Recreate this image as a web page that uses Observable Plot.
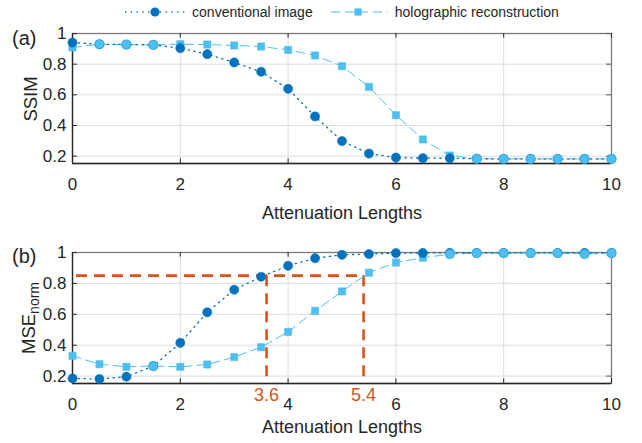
<!DOCTYPE html>
<html>
<head>
<meta charset="utf-8">
<script src="https://cdn.jsdelivr.net/npm/d3@7"></script>
<script src="https://cdn.jsdelivr.net/npm/@observablehq/plot@0.6"></script>
<style>
  html, body { margin: 0; padding: 0; background: #fff; }
  #wrap { position: relative; width: 642px; height: 443px; font-family: "Liberation Sans", Arial, sans-serif; color: #262626; }
  .plot { position: absolute; left: 0; }
  .ylab { position: absolute; font-size: 18.5px; transform: translate(-50%, -50%) rotate(-90deg); white-space: nowrap; }
  .plab { position: absolute; font-size: 20px; }
  #legend { position: absolute; top: 4px; left: 76px; width: 539px; display: flex; justify-content: center; align-items: center; font-size: 14px; gap: 6px; }
  #legend svg { display: block; }
</style>
</head>
<body>
<div id="wrap">
  <div id="legend"></div>
  <div id="pa" class="plot" style="top:0px"></div>
  <div id="pb" class="plot" style="top:230px"></div>
  <div class="plab" style="left:12px; top:27px">(a)</div>
  <div class="plab" style="left:12px; top:245px">(b)</div>
  <div class="ylab" style="left:31px; top:99px">SSIM</div>
  <div class="ylab" style="left:30px; top:318px">MSE<sub style="font-size:14px">norm</sub></div>
</div>
<script>
// ---- data ----
const attenuation = [0,0.5,1,1.5,2,2.5,3,3.5,4,4.5,5,5.5,6,6.5,7,7.5,8,8.5,9,9.5,10];
const ssimConventional = [0.941,0.930,0.928,0.926,0.904,0.865,0.811,0.750,0.639,0.459,0.298,0.217,0.191,0.187,0.186,0.183,0.182,0.182,0.182,0.182,0.182];
const ssimHolographic  = [0.909,0.930,0.928,0.926,0.930,0.928,0.922,0.915,0.893,0.857,0.787,0.652,0.467,0.309,0.204,0.183,0.182,0.182,0.182,0.182,0.182];
const mseConventional  = [0.185,0.181,0.196,0.265,0.415,0.613,0.759,0.843,0.914,0.963,0.985,0.990,0.996,0.997,0.997,0.997,0.997,0.997,0.997,0.997,0.997];
const mseHolographic   = [0.331,0.277,0.260,0.265,0.260,0.275,0.323,0.387,0.486,0.622,0.748,0.869,0.935,0.966,0.989,0.996,0.996,0.996,0.996,0.990,0.996];
const thresholdMSE = 0.85;
const thresholdX = [3.6, 5.4];
const xTicks = [0,2,4,6,8,10];
const yTicks = [0.2,0.4,0.6,0.8,1];
const yMin = 0.152, yMax = 1;

const DARK = "#0072BD", LIGHT = "#4DBEEE", ORANGE = "#D95319", AX = "#262626";

function rows(a, b) {
  return attenuation.map((x, i) => ({x, conv: a[i], holo: b[i]}));
}

function panel(data, opts) {
  const {height, marginTop, marginBottom, labelDy, extra = []} = opts;
  const overlap = data.filter(d => Math.abs(d.conv - d.holo) < 0.012);
  const tk = 0.03;
  const tkx = 0.09;
  return Plot.plot({
    width: 642, height, marginLeft: 72, marginRight: 31, marginTop, marginBottom,
    style: {fontFamily: "'Liberation Sans', Arial, sans-serif", fontSize: "17px", color: AX, background: "transparent", overflow: "visible"},
    x: {domain: [0, 10]},
    y: {domain: [yMin, yMax]},
    marks: [
      Plot.gridX(xTicks, {stroke: "#dcdcdc", strokeOpacity: 1}),
      Plot.gridY(yTicks, {stroke: "#dcdcdc", strokeOpacity: 1}),
      Plot.frame({stroke: "#7a7a7a", strokeWidth: 1.3}),
      Plot.ruleY([yMin], {stroke: AX, strokeWidth: 1.3}),
      Plot.ruleX([0], {stroke: AX, strokeWidth: 1.3}),
      Plot.ruleX(xTicks, {y1: yMin, y2: yMin + tk, stroke: AX}),
      Plot.ruleX(xTicks, {y1: yMax, y2: yMax - tk, stroke: AX}),
      Plot.ruleY(yTicks, {x1: 0, x2: tkx, stroke: AX}),
      Plot.ruleY(yTicks, {x1: 10, x2: 10 - tkx, stroke: "#555"}),
      Plot.axisX(xTicks, {anchor: "bottom", tickSize: 0, tickPadding: 14, fontSize: 17, fill: AX, label: null}),
      Plot.axisY(yTicks, {anchor: "left", tickSize: 0, tickPadding: 6, fontSize: 17, fill: AX, label: null,
        tickFormat: d => d === 1 ? "1" : d.toFixed(1)}),
      Plot.text(["Attenuation Lengths"], {frameAnchor: "bottom", dy: labelDy, fontSize: 18, fill: AX}),
      ...extra,
      Plot.line(data, {x: "x", y: "holo", stroke: LIGHT, strokeWidth: 1, strokeDasharray: "9,5"}),
      Plot.dot(data, {x: "x", y: "holo", symbol: "square", r: 4.1, fill: LIGHT, stroke: LIGHT, strokeWidth: 0.5}),
      Plot.line(data, {x: "x", y: "conv", stroke: DARK, strokeWidth: 1.3, strokeDasharray: "1.3,4.5"}),
      Plot.dot(data, {x: "x", y: "conv", r: 4.6, fill: DARK, stroke: DARK, strokeWidth: 0.5}),
      Plot.dot(overlap, {x: "x", y: "holo", r: 4.6, fill: LIGHT, stroke: "#3aa8dc", strokeWidth: 0.6})
    ]
  });
}

const dataA = rows(ssimConventional, ssimHolographic);
const dataB = rows(mseConventional, mseHolographic);

document.getElementById("pa").appendChild(panel(dataA, {height: 230, marginTop: 33, marginBottom: 67, labelDy: 55}));

const orangeMarks = [
  Plot.ruleY([thresholdMSE], {x1: 0, x2: thresholdX[1], stroke: ORANGE, strokeWidth: 2.6, strokeDasharray: "11,7", strokeDashoffset: -4}),
  Plot.ruleX(thresholdX, {y1: thresholdMSE, y2: yMin, stroke: ORANGE, strokeWidth: 2.6, strokeDasharray: "11,7"}),
  Plot.text(thresholdX, {x: d => d, y: yMin, dy: 12, lineAnchor: "middle", text: d => d.toFixed(1), fill: ORANGE, fontSize: 18})
];
document.getElementById("pb").appendChild(panel(dataB, {height: 213, marginTop: 22, marginBottom: 60, labelDy: 49, extra: orangeMarks}));

// legend
const legend = document.getElementById("legend");
function item(kind, label) {
  const ns = "http://www.w3.org/2000/svg";
  const s = document.createElementNS(ns, "svg");
  s.setAttribute("width", 62); s.setAttribute("height", 14);
  const l = document.createElementNS(ns, "line");
  l.setAttribute("x1", 1); l.setAttribute("x2", 61); l.setAttribute("y1", 7); l.setAttribute("y2", 7);
  if (kind === "conv") {
    l.setAttribute("stroke", DARK); l.setAttribute("stroke-width", 1.3); l.setAttribute("stroke-dasharray", "1.3,4.5");
    s.appendChild(l);
    const c = document.createElementNS(ns, "circle");
    c.setAttribute("cx", 31); c.setAttribute("cy", 7); c.setAttribute("r", 4.6); c.setAttribute("fill", DARK);
    s.appendChild(c);
  } else {
    l.setAttribute("stroke", LIGHT); l.setAttribute("stroke-width", 1); l.setAttribute("stroke-dasharray", "9,5"); l.setAttribute("stroke-dashoffset", "-3");
    s.appendChild(l);
    const r = document.createElementNS(ns, "rect");
    r.setAttribute("x", 27.4); r.setAttribute("y", 3.4); r.setAttribute("width", 7.2); r.setAttribute("height", 7.2); r.setAttribute("fill", LIGHT);
    s.appendChild(r);
  }
  const span = document.createElement("span");
  span.textContent = label;
  span.style.marginRight = "8px";
  legend.appendChild(s); legend.appendChild(span);
}
item("conv", "conventional image");
item("holo", "holographic reconstruction");
</script>
</body>
</html>
